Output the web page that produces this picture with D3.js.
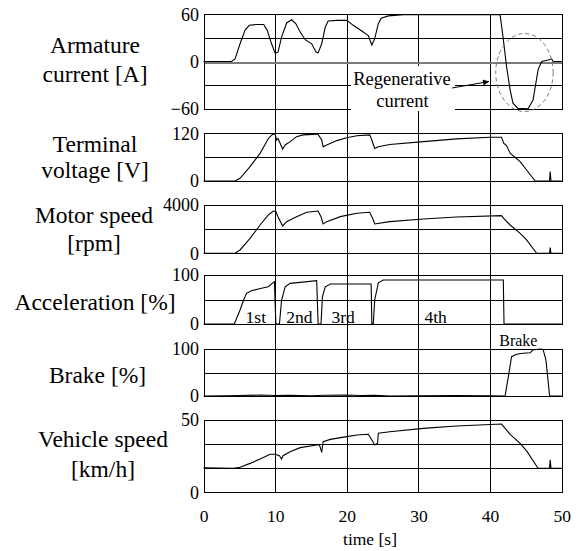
<!DOCTYPE html>
<html>
<head>
<meta charset="utf-8">
<script src="https://cdn.jsdelivr.net/npm/d3@7"></script>
<style>
  body { margin: 0; background: #fff; }
  svg { display: block; font-family: "Liberation Serif", "Times New Roman", serif; }
</style>
</head>
<body>
<script>
// time axis
const timeTicks = [0, 10, 20, 30, 40, 50];
const timeGrid = [10, 20, 30, 40];

// [time s, value]
const armatureCurrent = [
  [0, 0], [3.9, 0], [4.4, 3.4], [5.1, 22.5], [5.8, 40], [6.4, 46], [7.4, 47], [8.4, 47],
  [8.9, 39.6], [9.5, 22.5], [10.0, 10.6], [10.4, 12], [10.9, 31], [11.6, 49], [12.3, 53],
  [12.9, 48], [13.5, 37.4], [14.2, 27.7], [15.1, 22.5], [15.7, 12], [16.0, 11], [16.5, 22.5],
  [17.0, 43.8], [17.4, 51.5], [18.6, 52.3], [20.0, 52.3], [20.9, 46], [22.3, 37.4], [23.0, 33],
  [23.5, 21], [23.9, 29], [24.4, 48], [24.8, 55], [25.8, 58], [27.9, 59.6], [41.4, 59.6],
  [41.8, 32], [42.3, -6.4], [42.8, -36], [43.2, -53], [43.9, -59.6], [45.3, -60], [46.0, -49],
  [46.7, -10.6], [47.2, 0], [48.1, 2], [48.6, 3.4], [48.8, 0], [50, 0]
];

const terminalVoltage = [
  [0, 0], [4.4, 0], [5.1, 6.7], [6.5, 36], [7.9, 69.6], [9.05, 107], [9.65, 117.5], [10.0, 118],
  [10.2, 103], [10.4, 107], [11.05, 80.6], [11.4, 90.6], [12.1, 99], [13.0, 111.6], [13.9, 116],
  [15.8, 118], [16.0, 117], [16.5, 103], [16.7, 86], [17.2, 90.6], [18.6, 101.6], [20.0, 109],
  [21.4, 114], [23.2, 116], [23.5, 103], [23.9, 82], [24.4, 86], [26.0, 92], [30.7, 99],
  [35.3, 106], [40.0, 110], [41.6, 110], [41.9, 95], [42.3, 89], [42.8, 70], [44.2, 48.7],
  [45.1, 27.7], [46.3, 0], [48.3, 0], [48.4, 23.5], [48.5, 0], [50, 0]
];

const motorSpeed = [
  [0, 0], [4.4, 0], [5.1, 276], [6.5, 1241], [7.9, 2345], [9.05, 3173], [9.75, 3504], [10.1, 3449],
  [10.4, 3035], [11.05, 2262], [11.6, 2621], [13.0, 3035], [14.4, 3394], [16.0, 3504], [16.4, 3035],
  [16.7, 2428], [17.2, 2621], [19.1, 3035], [21.4, 3311], [23.2, 3394], [23.6, 2897], [23.9, 2428],
  [26.0, 2621], [30.7, 2842], [35.3, 3007], [41.6, 3118], [41.9, 2900], [42.8, 2345], [44.2, 1655],
  [45.1, 1104], [46.5, 0], [48.3, 0], [48.4, 469], [48.5, 0], [50, 0]
];

const acceleration = [
  [0, 0], [4.3, 0], [5.1, 28.6], [5.6, 49], [6.0, 62.6], [6.7, 68], [8.1, 72.8], [9.05, 76],
  [9.75, 85], [9.9, 86.4], [10.1, 0], [10.6, 0], [10.9, 49], [11.4, 76], [12.1, 83], [15.8, 88.4],
  [16.0, 0], [16.4, 0], [16.6, 55.8], [17.0, 76], [17.7, 81.6], [23.4, 81.6], [23.5, 0], [23.7, 1],
  [23.9, 49], [24.4, 84], [25.1, 89.8], [28.8, 89.8], [41.85, 89.8], [41.95, 0], [50, 0]
];

const brake = [
  [0, 0], [3, 0.5], [5, 1], [8, 2], [10, 1], [12, 1.5], [15, 0.5], [17, 1.5], [20, 2], [22, 1],
  [24, 1.5], [26, 0], [30, 0.5], [35, 1], [40, 0.5], [42.1, 0], [42.7, 55], [43.0, 83.7],
  [43.7, 89], [44.6, 90.8], [45.6, 92], [46.0, 98], [47.0, 100], [47.4, 99], [47.8, 76.6],
  [48.3, 2], [48.4, 0], [50, 0]
];

const vehicleSpeed = [
  [0, 17], [4.2, 16.6], [5.1, 17.3], [6.5, 20], [7.9, 23], [9.3, 26.3], [10.0, 26.3], [10.6, 25.3],
  [10.9, 23], [11.1, 25.3], [12.1, 28], [13.5, 30.9], [15.8, 32.7], [16.2, 32.7], [16.5, 27.6],
  [16.7, 35], [17.7, 36.6], [20.0, 38.5], [21.4, 39.6], [23.0, 40.1], [23.5, 36.2], [23.9, 32.7],
  [24.3, 33.9], [24.4, 40.8], [26.0, 41.9], [30.7, 44.2], [35.3, 45.9], [41.6, 47.2], [42.1, 44.2],
  [42.8, 40.1], [44.2, 33.9], [45.1, 28.6], [46.7, 16.6], [48.3, 16.6], [48.4, 22.4], [48.5, 16.6],
  [50, 16.6]
];

const gearLabels = [
  { text: "1st", t: 7.3 }, { text: "2nd", t: 13.4 }, { text: "3rd", t: 19.5 }, { text: "4th", t: 32.4 }
];

const W = 577, H = 551;
const svg = d3.select("body").append("svg").attr("width", W).attr("height", H);

const x = d3.scaleLinear().domain([0, 50]).range([203.5, 561.7]);

const panels = [
  { label: ["Armature", "current [A]"], lx: 95, ly: [53, 82], domain: [-60, 60], range: [108.7, 14.3],
    ticks: [-60, 0, 60], grid: [-30, 0, 30], data: armatureCurrent },
  { label: ["Terminal", "voltage [V]"], lx: 95, ly: [152, 178], domain: [0, 120], range: [181, 133.3],
    ticks: [0, 120], grid: [60], data: terminalVoltage },
  { label: ["Motor speed", "[rpm]"], lx: 94, ly: [223, 251], domain: [0, 4000], range: [253.3, 205],
    ticks: [0, 4000], grid: [2000], data: motorSpeed },
  { label: ["Acceleration [%]"], lx: 95, ly: [310], domain: [0, 100], range: [324, 275],
    ticks: [0, 100], grid: [50], data: acceleration },
  { label: ["Brake [%]"], lx: 97.5, ly: [383], domain: [0, 100], range: [396, 349],
    ticks: [0, 100], grid: [50], data: brake },
  { label: ["Vehicle speed", "[km/h]"], lx: 103, ly: [447, 477], domain: [0, 50], range: [492.3, 420],
    ticks: [0, 50], grid: [50 / 3, 100 / 3], data: vehicleSpeed }
];
panels.forEach(p => { p.y = d3.scaleLinear().domain(p.domain).range(p.range); });

// vertical grid lines run through every panel
svg.append("g")
  .selectAll("line")
  .data(timeGrid)
  .join("line")
  .attr("x1", d => Math.round(x(d)) + 0.5)
  .attr("x2", d => Math.round(x(d)) + 0.5)
  .attr("y1", panels[0].range[1])
  .attr("y2", panels[5].range[0])
  .attr("stroke", "#000")
  .attr("shape-rendering", "crispEdges");

panels.forEach((p, i) => {
  const g = svg.append("g");
  const y = p.y;

  g.selectAll(".grid")
    .data(p.grid)
    .join("line")
    .attr("class", "grid")
    .attr("x1", x.range()[0]).attr("x2", x.range()[1])
    .attr("y1", d => Math.round(y(d)) + 0.5)
    .attr("y2", d => Math.round(y(d)) + 0.5)
    .attr("stroke", d => (i === 0 && d === 0) ? "#7a7a7a" : "#000")
    .attr("stroke-width", d => (i === 0 && d === 0) ? 2 : 1)
    .attr("shape-rendering", "crispEdges");

  const line = d3.line().x(d => x(d[0])).y(d => y(d[1]));
  g.append("path")
    .datum(p.data)
    .attr("d", line)
    .attr("fill", "none")
    .attr("stroke", "#000")
    .attr("stroke-width", 1.1);

  g.append("rect")
    .attr("x", Math.round(x.range()[0]) + 0.5)
    .attr("y", Math.round(p.range[1]) + 0.5)
    .attr("width", Math.round(x.range()[1]) - Math.round(x.range()[0]))
    .attr("height", Math.round(p.range[0]) - Math.round(p.range[1]))
    .attr("fill", "none")
    .attr("stroke", "#000")
    .attr("shape-rendering", "crispEdges");

  const ax = g.append("g")
    .attr("transform", "translate(" + x.range()[0] + ",0)")
    .call(d3.axisLeft(y).tickValues(p.ticks).tickSize(0).tickPadding(4.5).tickFormat(d3.format("d")));
  ax.select(".domain").remove();
  ax.attr("font-family", null).attr("font-size", 18);
  ax.selectAll("text").attr("fill", "#000");

  const lab = g.append("text")
    .attr("text-anchor", "middle")
    .attr("font-size", 23.5)
    .attr("fill", "#000");
  p.label.forEach((s, k) => {
    lab.append("tspan").attr("x", p.lx).attr("y", p.ly[k]).text(s);
  });
});

// time axis
const xa = svg.append("g")
  .attr("transform", "translate(0," + panels[5].range[0] + ")")
  .call(d3.axisBottom(x).tickValues(timeTicks).tickSize(0).tickPadding(17));
xa.select(".domain").remove();
xa.attr("font-family", null).attr("font-size", 17.5);
xa.selectAll("text").attr("fill", "#000");

svg.append("text")
  .attr("x", 370).attr("y", 545)
  .attr("text-anchor", "middle")
  .attr("font-size", 17.5)
  .text("time [s]");

// gear labels in the acceleration panel
const yAcc = panels[3].y;
svg.append("g")
  .selectAll("text")
  .data(gearLabels)
  .join("text")
  .attr("x", d => x(d.t))
  .attr("y", yAcc(0) - 0.7)
  .attr("text-anchor", "middle")
  .attr("font-size", 17.5)
  .text(d => d.text);

// brake label
svg.append("text")
  .attr("x", x(43.95)).attr("y", 346)
  .attr("text-anchor", "middle")
  .attr("font-size", 16)
  .text("Brake");

// regenerative current annotation
const yCur = panels[0].y;
svg.append("rect")
  .attr("x", 351).attr("y", 66)
  .attr("width", 104).attr("height", 45)
  .attr("fill", "#fff");

const ann = svg.append("text").attr("text-anchor", "middle").attr("font-size", 18.5);
ann.append("tspan").attr("x", 402).attr("y", 85).text("Regenerative");
ann.append("tspan").attr("x", 402.5).attr("y", 106.5).text("current");

svg.append("defs").append("marker")
  .attr("id", "arrow")
  .attr("viewBox", "0 0 10 10")
  .attr("refX", 10).attr("refY", 5)
  .attr("markerWidth", 9).attr("markerHeight", 6)
  .attr("markerUnits", "userSpaceOnUse")
  .attr("orient", "auto")
  .append("path")
  .attr("d", "M0,0L10,5L0,10z")
  .attr("fill", "#000");

svg.append("line")
  .attr("x1", 452).attr("y1", 88)
  .attr("x2", 489).attr("y2", 81.5)
  .attr("stroke", "#000")
  .attr("stroke-width", 1)
  .attr("marker-end", "url(#arrow)");

svg.append("ellipse")
  .attr("cx", x(44.8)).attr("cy", yCur(-14))
  .attr("rx", 28.7).attr("ry", 39)
  .attr("fill", "none")
  .attr("stroke", "#777")
  .attr("stroke-width", 1)
  .attr("stroke-dasharray", "4,3");
</script>
</body>
</html>
